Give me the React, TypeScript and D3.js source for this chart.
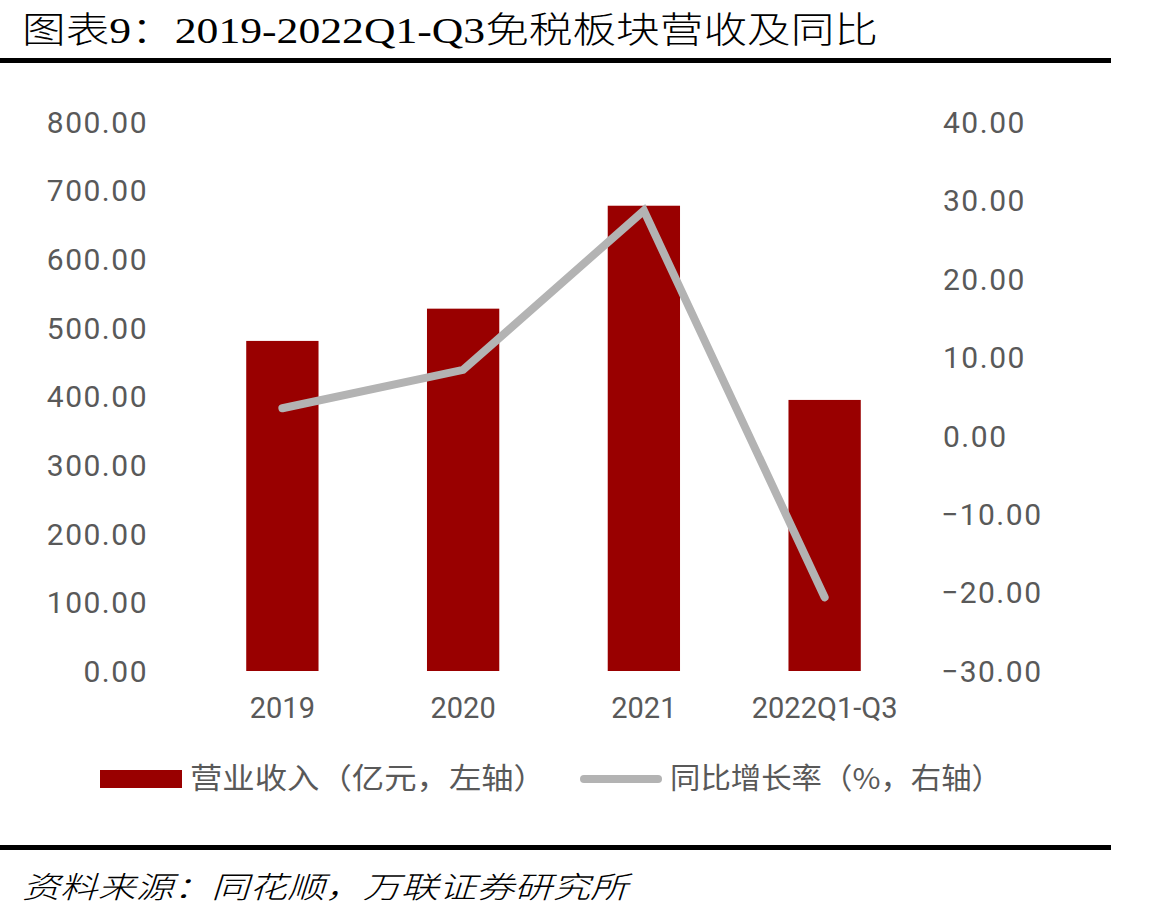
import React, { useEffect, useRef } from 'react';
import * as d3 from 'd3';

// chart data
const categories = ['2019', '2020', '2021', '2022Q1-Q3'];
const revenue = [481, 528, 678, 395]; // 亿元, left axis
const yoy = [3.5, 8.4, 28.7, -20.6]; // %, right axis
const leftTicks = [0, 100, 200, 300, 400, 500, 600, 700, 800];
const rightTicks = [-30, -20, -10, 0, 10, 20, 30, 40];

const title = '图表9：2019-2022Q1-Q3免税板块营收及同比';
const source = '资料来源：同花顺，万联证券研究所';
const legendBar = '营业收入（亿元，左轴）';
const legendLine = '同比增长率（%，右轴）';

const W = 1175;
const H = 917;
const labelColor = '#595959';
const barColor = '#990000';
const lineColor = '#b3b3b3';
const numFont = 'Roboto, "Noto Sans", sans-serif';
const cjkFont = '"Noto Sans CJK SC", sans-serif';

const App = () => {
  const ref = useRef(null);

  useEffect(() => {
    const svg = d3.select(ref.current);
    svg.selectAll('*').remove();

    const top = 122;
    const bottom = 671;

    const x = d3
      .scaleBand()
      .domain(categories)
      .range([192, 915])
      .paddingInner(0.6)
      .paddingOuter(0.3);
    const yLeft = d3.scaleLinear().domain([0, 800]).range([bottom, top]);
    const yRight = d3.scaleLinear().domain([-30, 40]).range([bottom, top]);

    // title and rules
    svg
      .append('text')
      .attr('x', 22)
      .attr('y', 43)
      .attr('font-family', '"Liberation Serif", "Noto Sans CJK SC", serif')
      .attr('font-size', 36)
      .attr('font-weight', 300)
      .attr('fill', '#000')
      .attr('textLength', 856)
      .attr('lengthAdjust', 'spacingAndGlyphs')
      .text(title);

    svg.append('rect').attr('x', 0).attr('y', 58).attr('width', 1111).attr('height', 5).attr('fill', '#000');
    svg.append('rect').attr('x', 0).attr('y', 845).attr('width', 1111).attr('height', 5).attr('fill', '#000');

    // left axis labels
    svg
      .append('g')
      .selectAll('text')
      .data(leftTicks)
      .enter()
      .append('text')
      .attr('x', 148)
      .attr('y', (d) => yLeft(d))
      .attr('dy', '0.36em')
      .attr('text-anchor', 'end')
      .attr('font-family', numFont)
      .attr('font-size', 30)
      .attr('letter-spacing', 1.5)
      .attr('fill', labelColor)
      .text((d) => d3.format('.2f')(d));

    // right axis labels
    svg
      .append('g')
      .selectAll('text')
      .data(rightTicks)
      .enter()
      .append('text')
      .attr('x', (d) => (d < 0 ? 941 : 943))
      .attr('y', (d) => yRight(d))
      .attr('dy', '0.36em')
      .attr('text-anchor', 'start')
      .attr('font-family', numFont)
      .attr('font-size', 30)
      .attr('letter-spacing', 1.5)
      .attr('fill', labelColor)
      .text((d) => d3.format('.2f')(d).replace('-', '−'));

    // bars
    svg
      .append('g')
      .selectAll('rect')
      .data(revenue)
      .enter()
      .append('rect')
      .attr('x', (d, i) => x(categories[i]))
      .attr('y', (d) => yLeft(d))
      .attr('width', x.bandwidth())
      .attr('height', (d) => yLeft(0) - yLeft(d))
      .attr('fill', barColor);

    // line
    const line = d3
      .line()
      .x((d, i) => x(categories[i]) + x.bandwidth() / 2)
      .y((d) => yRight(d));

    svg
      .append('path')
      .datum(yoy)
      .attr('fill', 'none')
      .attr('stroke', lineColor)
      .attr('stroke-width', 8)
      .attr('stroke-linejoin', 'miter')
      .attr('stroke-linecap', 'round')
      .attr('d', line);

    // x labels
    svg
      .append('g')
      .selectAll('text')
      .data(categories)
      .enter()
      .append('text')
      .attr('x', (d) => x(d) + x.bandwidth() / 2)
      .attr('y', 718)
      .attr('text-anchor', 'middle')
      .attr('font-family', numFont)
      .attr('font-size', 29)
      .attr('fill', labelColor)
      .text((d) => d);

    // legend
    const ly = 779;
    svg.append('rect').attr('x', 100).attr('y', ly - 9).attr('width', 82).attr('height', 18).attr('fill', barColor);
    svg
      .append('text')
      .attr('x', 190)
      .attr('y', ly)
      .attr('dy', '0.36em')
      .attr('font-family', cjkFont)
      .attr('font-size', 29)
      .attr('fill', labelColor)
      .attr('textLength', 356)
      .attr('lengthAdjust', 'spacingAndGlyphs')
      .text(legendBar);

    svg
      .append('line')
      .attr('x1', 584)
      .attr('x2', 658)
      .attr('y1', ly)
      .attr('y2', ly)
      .attr('stroke', lineColor)
      .attr('stroke-width', 8)
      .attr('stroke-linecap', 'round');
    svg
      .append('text')
      .attr('x', 670)
      .attr('y', ly)
      .attr('dy', '0.36em')
      .attr('font-family', cjkFont)
      .attr('font-size', 29)
      .attr('fill', labelColor)
      .attr('textLength', 332)
      .attr('lengthAdjust', 'spacingAndGlyphs')
      .text(legendLine);

    // source note
    svg
      .append('text')
      .attr('x', 22)
      .attr('y', 898)
      .attr('font-family', cjkFont)
      .attr('font-size', 30)
      .attr('font-weight', 300)
      .attr('font-style', 'italic')
      .attr('fill', '#000')
      .attr('textLength', 606)
      .attr('lengthAdjust', 'spacingAndGlyphs')
      .text(source);
  }, []);

  return (
    <div style={{ position: 'absolute', left: 0, top: 0 }}>
      <svg ref={ref} width={W} height={H} style={{ display: 'block', background: '#fff' }} />
    </div>
  );
};

export default App;
